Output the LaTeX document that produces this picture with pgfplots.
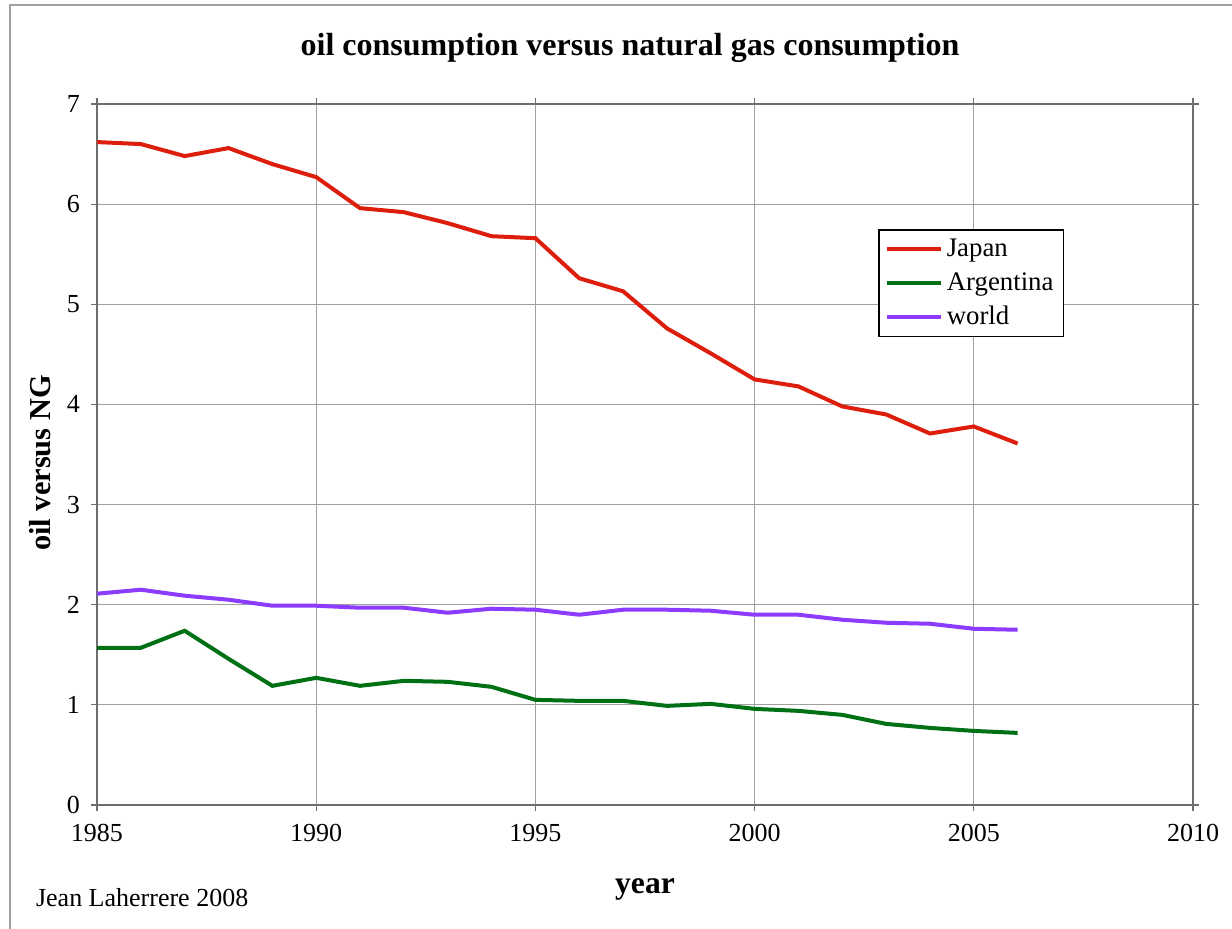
\documentclass[border=0pt]{standalone}
\usepackage{pgfplots}
\pgfplotsset{compat=1.18}
\usepackage{fontspec}
\setmainfont{Liberation Serif}
\definecolor{jap}{RGB}{222,30,12}
\definecolor{arg}{RGB}{0,112,20}
\definecolor{wld}{RGB}{140,60,255}
\definecolor{gridc}{RGB}{160,160,160}
\definecolor{axc}{RGB}{110,110,110}
\begin{document}
\begin{tikzpicture}
\useasboundingbox (-48.5pt,-61.5pt) rectangle (567.5pt,402.5pt);
\fill[white] (-48.5pt,-61.5pt) rectangle (567.5pt,402.5pt);
\draw[gridc, line width=1pt] (-43.5pt,-62pt) -- (-43.5pt,400pt) -- (568pt,400pt);
\begin{axis}[
  scale only axis, width=548pt, height=350.5pt,
  at={(0,0)}, anchor=south west,
  xmin=1985, xmax=2010, ymin=0, ymax=7,
  xtick={1985,1990,1995,2000,2005,2010}, ytick={0,1,2,3,4,5,6,7},
  /pgf/number format/assume math mode=true,
  /pgf/number format/set thousands separator={},
  tick label style={font=\fontsize{13}{15}\selectfont, text=black},
  xticklabel style={yshift=-3pt},
  yticklabel style={xshift=-2pt},
  tick align=outside, major tick length=3pt,
  tick style={axc, line width=0.6pt},
  axis line style={axc, line width=1pt},
  grid=major, major grid style={gridc, line width=0.6pt},
  every axis title shift=0pt,
  title={oil consumption versus natural gas consumption},
  title style={font=\fontsize{16}{19}\bfseries, at={(266.5pt,378.5pt)}, anchor=center},
  xlabel={year},
  xlabel style={font=\fontsize{15.8}{18}\bfseries, at={(274pt,-42pt)}, anchor=center},
  ylabel={oil versus NG},
  ylabel style={font=\fontsize{15.2}{18}\bfseries, at={(-28.5pt,171pt)}, anchor=center, rotate=0},
  legend style={at={(0.7126,0.8217)}, anchor=north west, draw=black, line width=0.8pt,
    font=\fontsize{13.4}{15}\selectfont, inner xsep=3pt, inner ysep=2.5pt,
    row sep=2.5pt, cells={anchor=west}},
  legend image code/.code={\draw[#1, line width=2pt] (0pt,0pt) -- (27pt,0pt);},
  clip=false,
]
\addplot[jap, line width=2pt] coordinates {
(1985,6.62) (1986,6.60) (1987,6.48) (1988,6.56) (1989,6.40) (1990,6.27)
(1991,5.96) (1992,5.92) (1993,5.81) (1994,5.68) (1995,5.66) (1996,5.26)
(1997,5.13) (1998,4.76) (1999,4.51) (2000,4.25) (2001,4.18) (2002,3.98)
(2003,3.90) (2004,3.71) (2005,3.78) (2006,3.61)};
\addlegendentry{Japan}
\addplot[arg, line width=2pt] coordinates {
(1985,1.57) (1986,1.57) (1987,1.74) (1988,1.46) (1989,1.19) (1990,1.27)
(1991,1.19) (1992,1.24) (1993,1.23) (1994,1.18) (1995,1.05) (1996,1.04)
(1997,1.04) (1998,0.99) (1999,1.01) (2000,0.96) (2001,0.94) (2002,0.90)
(2003,0.81) (2004,0.77) (2005,0.74) (2006,0.72)};
\addlegendentry{Argentina}
\addplot[wld, line width=2pt] coordinates {
(1985,2.11) (1986,2.15) (1987,2.09) (1988,2.05) (1989,1.99) (1990,1.99)
(1991,1.97) (1992,1.97) (1993,1.92) (1994,1.96) (1995,1.95) (1996,1.90)
(1997,1.95) (1998,1.95) (1999,1.94) (2000,1.90) (2001,1.90) (2002,1.85)
(2003,1.82) (2004,1.81) (2005,1.76) (2006,1.75)};
\addlegendentry{world}
\end{axis}
\node[font=\fontsize{13}{15}\selectfont, anchor=west] at (-34pt,-46.5pt) {Jean Laherrere 2008};
\end{tikzpicture}
\end{document}
